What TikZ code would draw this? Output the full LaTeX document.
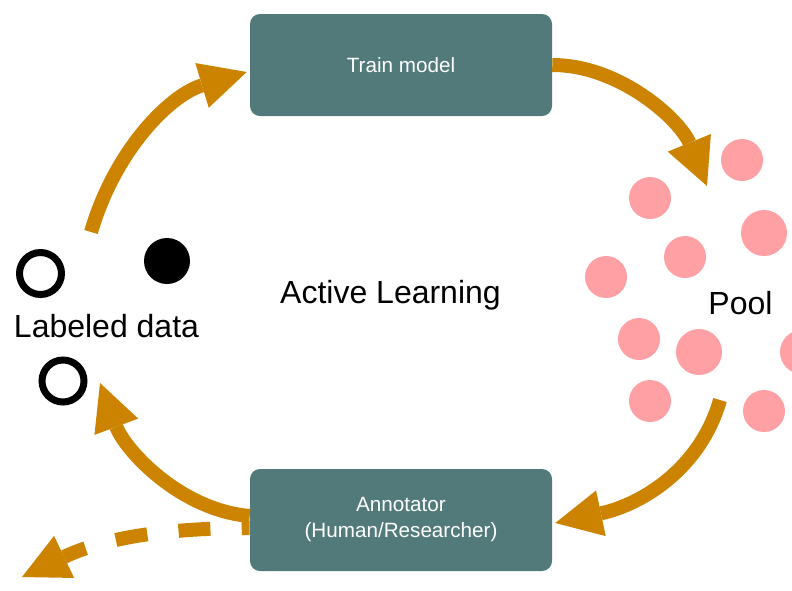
\documentclass[tikz,border=0pt]{standalone}
\usepackage{fontspec}
\setmainfont{Liberation Sans}
\usetikzlibrary{arrows.meta}
\definecolor{boxteal}{HTML}{527A7A}
\definecolor{flowc}{HTML}{CC8400}
\definecolor{poolc}{HTML}{FFA0A5}

\begin{document}
\begin{tikzpicture}[x=0.75pt,y=-0.75pt,
        stage/.style={fill=boxteal, rounded corners=7.5pt, minimum width=226.5pt,
            minimum height=76.5pt, inner sep=0pt, text=white, align=center,
            font=\fontsize{15.5}{19.5}\selectfont},
        flow/.style={draw=flowc, line width=10.5pt,
            -{Triangle[length=35pt,width=35pt,line width=0pt]}},
        big/.style={anchor=base, inner sep=0pt, font=\fontsize{24}{28}\selectfont},
        sample/.style={circle, draw=black, line width=5.25pt, minimum size=31.5pt, inner sep=0pt}]
        \useasboundingbox (0,0) rectangle (792,590);
        \clip (0,0) rectangle (792,590);
        % boxes
        \node[stage] (train) at (401,65) {Train model};
        \node[stage] (annot) at (401,520) {Annotator\\(Human/Researcher)};
        % labels
        \node[big] (al) at (390.5,303) {Active Learning};
        \node[big] (labeled) at (106.5,337) {Labeled data};
        \node[big] (pool) at (740.5,314) {Pool};
        % labeled samples
        \node[sample] (s1) at (40.5,273.5) {};
        \node[sample] (s2) at (63,381) {};
        \node[sample, draw=none, fill=black, minimum size=34.5pt] (s3) at (167,261) {};
        % unlabeled pool
        \foreach \x/\y/\r in {742/160/21, 650/198/21, 764/233/23, 685/257/21, 606/277/21,
                639/339/21, 699/352/23, 802/352/22, 650/401/21, 764/411/21}
            \fill[poolc] (\x,\y) circle [radius=\r*0.75pt];
        % cycle
        \coordinate (lab-top) at (91,232);
        \coordinate (pool-in) at (707,186);
        \coordinate (pool-bot) at (720,400);
        \coordinate (lab-in) at (100,383);
        \coordinate (out) at (22,577);
        \draw[flow] (lab-top) .. controls (115,150) and (170,95) .. ([shift={(-3,7)}]train.west);
        \draw[flow] (train.east) .. controls (620,65) and (680,120) .. (pool-in);
        \draw[flow] (pool-bot) .. controls (700,470) and (640,505) .. ([shift={(3,3)}]annot.east);
        \draw[flow] ([shift={(0,-4)}]annot.west) .. controls (180,510) and (125,450) .. (lab-in);
        \draw[flow, dash pattern=on 24pt off 23.5pt, dash phase=18pt]
            ([shift={(0,8)}]annot.west) .. controls (180,528) and (110,535) .. (out);
    \end{tikzpicture}
\end{document}
